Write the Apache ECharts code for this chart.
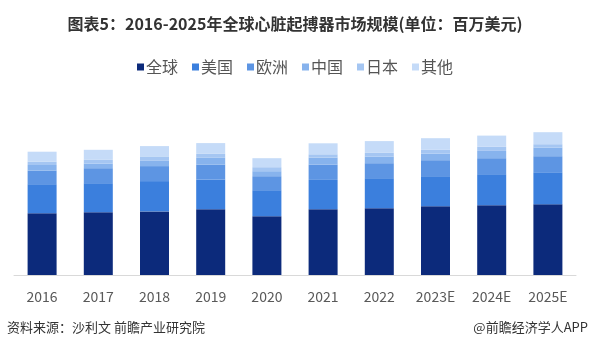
<!DOCTYPE html>
<html>
<head>
<meta charset="utf-8">
<script src="https://cdn.jsdelivr.net/npm/echarts@6/dist/echarts.min.js"></script>
<style>
  html, body { margin: 0; padding: 0; background: #fff; }
  #chart { width: 590px; height: 352px; }
</style>
</head>
<body>
<div id="chart"></div>
<script>
var years = ['2016', '2017', '2018', '2019', '2020', '2021', '2022', '2023E', '2024E', '2025E'];
var seriesNames = ['全球', '美国', '欧洲', '中国', '日本', '其他'];
// 各地区数值
var globalVals = [3090, 3140, 3180, 3290, 2940, 3290, 3340, 3440, 3490, 3540];
var usVals     = [1450, 1450, 1515, 1485, 1300, 1465, 1500, 1500, 1550, 1600];
var euVals     = [675, 750, 750, 750, 700, 765, 750, 800, 800, 800];
var cnVals     = [285, 235, 285, 335, 250, 350, 335, 335, 365, 435];
var jpVals     = [165, 185, 200, 200, 200, 165, 185, 200, 215, 165];
var otherVals  = [500, 500, 515, 535, 450, 550, 585, 565, 550, 600];

var colors = ['#0c2a7b', '#3b7fdd', '#5d95e3', '#87b3ed', '#a5c6f2', '#c5dbf8'];
var allVals = [globalVals, usVals, euVals, cnVals, jpVals, otherVals];

var chart = echarts.init(document.getElementById('chart'));

var series = [];
for (var i = 0; i < seriesNames.length; i++) {
  series.push({
    name: seriesNames[i],
    type: 'bar',
    stack: 'total',
    barWidth: 29,
    data: allVals[i],
    itemStyle: { color: colors[i] }
  });
}

var option = {
  animation: false,
  color: colors,
  title: {
    text: '图表5：2016-2025年全球心脏起搏器市场规模(单位：百万美元)',
    left: 'center',
    top: 11,
    textStyle: {
      fontSize: 16,
      fontWeight: 'bold',
      color: '#333',
      fontFamily: 'Noto Sans CJK SC'
    }
  },
  legend: {
    data: seriesNames,
    left: 'center',
    top: 54,
    icon: 'rect',
    itemWidth: 7,
    itemHeight: 7,
    itemGap: 14,
    textStyle: {
      fontSize: 16,
      color: '#555',
      padding: [0, 0, 0, -3],
      fontFamily: 'Noto Sans CJK SC'
    }
  },
  grid: {
    left: 14,
    right: 14,
    top: 100,
    bottom: 77,
    containLabel: false
  },
  xAxis: {
    type: 'category',
    data: years,
    axisLine: { lineStyle: { color: '#d9d9d9', width: 1 } },
    axisTick: { show: false },
    axisLabel: {
      fontSize: 14,
      color: '#595959',
      margin: 15,
      fontFamily: 'Noto Sans CJK SC'
    }
  },
  yAxis: {
    type: 'value',
    min: 0,
    max: 8750,
    show: false,
    splitLine: { show: false }
  },
  graphic: [
    {
      type: 'text',
      left: 7,
      top: 321,
      style: {
        text: '资料来源：沙利文 前瞻产业研究院',
        fontSize: 13,
        fill: '#333',
        fontFamily: 'Noto Sans CJK SC'
      }
    },
    {
      type: 'text',
      right: 2,
      top: 321,
      style: {
        text: '@前瞻经济学人APP',
        fontSize: 13,
        fill: '#333',
        fontFamily: 'Noto Sans CJK SC'
      }
    }
  ],
  series: series
};

chart.setOption(option);
</script>
</body>
</html>
